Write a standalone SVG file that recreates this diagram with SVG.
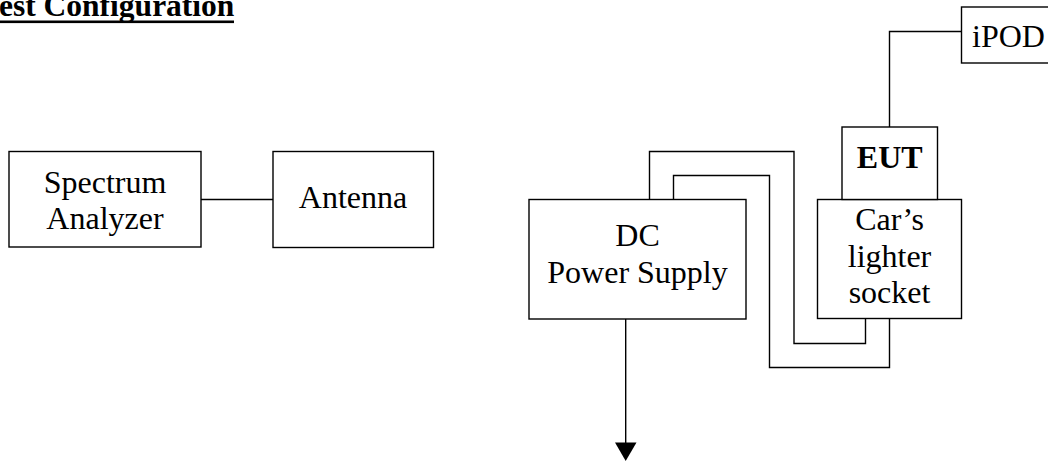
<svg xmlns="http://www.w3.org/2000/svg" width="1048" height="461" viewBox="0 0 1048 461">
<style>
.box{fill:#fff;stroke:#000;stroke-width:1.4}
.w{fill:none;stroke:#000;stroke-width:1.4}
text{font-family:"Liberation Serif","Times New Roman",serif;font-size:32px;fill:#000;text-anchor:middle}
.b{font-weight:bold}
</style>
<defs>
<marker id="arr" markerWidth="22" markerHeight="19" refX="11" refY="19" orient="auto-start-reverse" markerUnits="userSpaceOnUse" viewBox="0 0 22 19">
<path d="M0,0 L22,0 L11,19 Z" fill="#000"/>
</marker>
</defs>
<rect width="1048" height="461" fill="#fff"/>
<g id="title">
<text x="-1" y="16" class="b" style="text-anchor:start;font-size:31.5px">est Configuration</text>
<rect x="0" y="20.5" width="234" height="2.6" fill="#000"/>
</g>
<g id="connectors">
<line class="w" x1="201" y1="199.5" x2="273" y2="199.5"/>
<polyline class="w" points="889.5,127 889.5,31.5 961.5,31.5"/>
<polyline class="w" points="649.5,199.5 649.5,151.5 794,151.5 794,343.5 865.5,343.5 865.5,318.5"/>
<polyline class="w" points="673.5,199.5 673.5,175.5 769.5,175.5 769.5,367.5 889.5,367.5 889.5,318.5"/>
<line class="w" x1="625.7" y1="319" x2="625.7" y2="443" />
<path d="M615,442.5 L636.5,442.5 L625.7,461 Z" fill="#000"/>
</g>
<g id="spectrum">
<rect class="box" x="9" y="151.5" width="192" height="95.5"/>
<text x="105" y="192.7">Spectrum</text>
<text x="105" y="229.3">Analyzer</text>
</g>
<g id="antenna">
<rect class="box" x="273" y="151.5" width="160.5" height="96"/>
<text x="353" y="208">Antenna</text>
</g>
<g id="dc">
<rect class="box" x="529" y="199.5" width="217" height="119.5"/>
<text x="637.5" y="246">DC</text>
<text x="637.5" y="283.3">Power Supply</text>
</g>
<g id="socket">
<rect class="box" x="817.5" y="199.5" width="144" height="119"/>
<text x="889.5" y="230">Car’s</text>
<text x="889.5" y="266.7">lighter</text>
<text x="889.5" y="303.3">socket</text>
</g>
<g id="eut">
<rect class="box" x="842" y="127" width="95.5" height="72.5"/>
<text x="889.7" y="168.3" class="b">EUT</text>
</g>
<g id="ipod">
<rect class="box" x="961.5" y="7" width="100" height="56"/>
<text x="972" y="46.7" style="text-anchor:start">iPOD</text>
</g>
</svg>
